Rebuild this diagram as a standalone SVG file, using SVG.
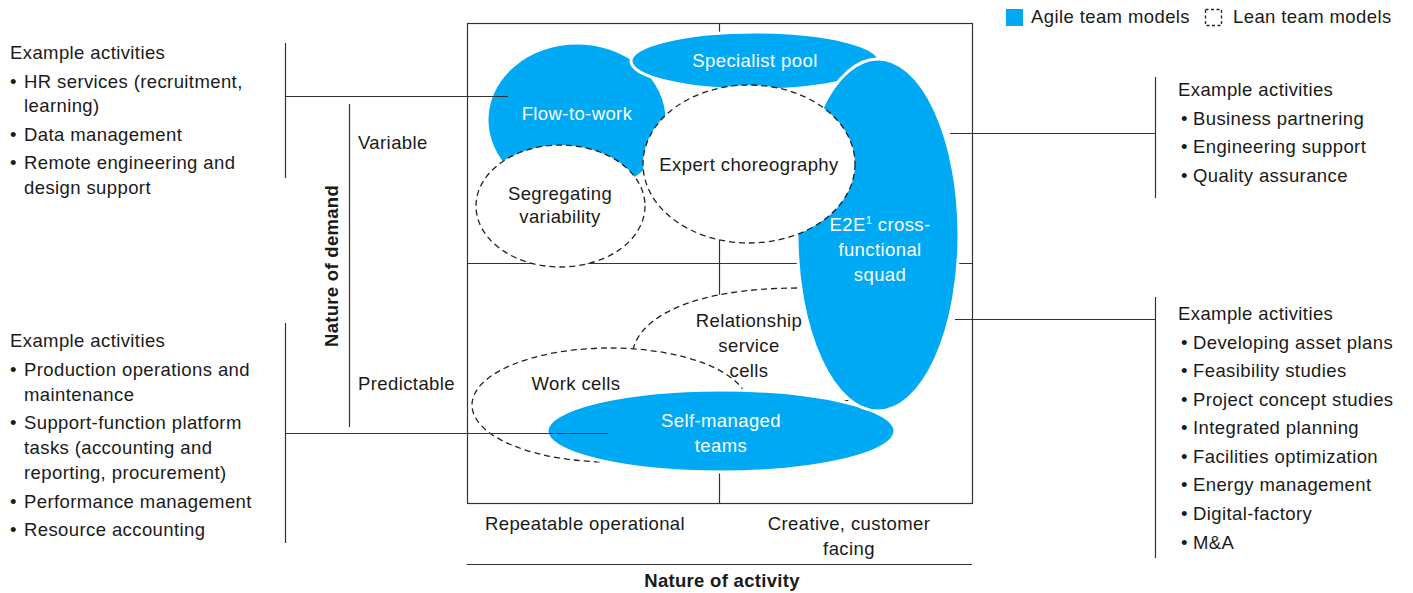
<svg xmlns="http://www.w3.org/2000/svg" width="1413" height="593" viewBox="0 0 1413 593">
<style>
text{font-family:"Liberation Sans",Arial,sans-serif;font-size:18.5px;fill:#1a1a1a;letter-spacing:0.4px}
.w{fill:#fff}
.b{font-weight:bold;letter-spacing:0.3px}
.m{text-anchor:middle}
.ln{stroke:#333;stroke-width:1.2;fill:none}
.ag{fill:#00a9f4;stroke:#fff;stroke-width:3}
.le{fill:#fff;stroke:#222;stroke-width:1.3;stroke-dasharray:6 4}
</style>
<rect width="1413" height="593" fill="#fff"/>

<g id="legend">
  <rect x="1006" y="9" width="17" height="17" fill="#00a9f4"/>
  <text x="1031" y="23">Agile team models</text>
  <rect x="1205.5" y="9.5" width="16" height="16" fill="none" stroke="#222" stroke-width="1.3" stroke-dasharray="3 2.5"/>
  <text x="1233" y="23">Lean team models</text>
</g>

<g id="grid" class="ln">
  <rect x="467.5" y="23.5" width="505" height="480"/>
  <line x1="467" y1="263.5" x2="972" y2="263.5"/>
  <line x1="719.5" y1="23" x2="719.5" y2="503"/>
  <line x1="467" y1="564.5" x2="972" y2="564.5"/>
  <line x1="349.5" y1="104" x2="349.5" y2="427"/>
</g>

<g id="flow-to-work">
  <ellipse class="ag" cx="577" cy="120" rx="90" ry="77"/>
  <text class="w m" x="577" y="120">Flow-to-work</text>
</g>
<g id="specialist-pool">
  <ellipse class="ag" cx="755" cy="61" rx="124" ry="29"/>
  <text class="w m" x="755" y="67">Specialist pool</text>
</g>
<g id="relationship-service-cells">
  <path class="le" d="M633,350 C640,318 690,288 800,288 L850,300 L850,400 L760,420 L680,420 Z"/>
  <text class="m" x="749" y="327">Relationship</text>
  <text class="m" x="749" y="352">service</text>
  <text class="m" x="749" y="377">cells</text>
</g>
<g id="work-cells">
  <ellipse class="le" cx="610" cy="405" rx="138" ry="57"/>
  <text class="m" x="576" y="390">Work cells</text>
</g>
<g id="self-managed-teams">
  <ellipse class="ag" cx="721" cy="431" rx="174" ry="41"/>
  <text class="w m" x="721" y="427">Self-managed</text>
  <text class="w m" x="721" y="452">teams</text>
</g>
<g id="e2e-squad">
  <ellipse class="ag" cx="878" cy="235" rx="81" ry="176"/>
  <text class="w m" x="880" y="231">E2E<tspan font-size="11" dy="-7">1</tspan><tspan dy="7"> cross-</tspan></text>
  <text class="w m" x="880" y="256">functional</text>
  <text class="w m" x="880" y="281">squad</text>
</g>
<g id="segregating-variability">
  <ellipse class="le" cx="560.5" cy="206" rx="84.5" ry="61"/>
  <text class="m" x="560" y="200">Segregating</text>
  <text class="m" x="560" y="223">variability</text>
</g>
<g id="expert-choreography">
  <ellipse class="le" cx="749" cy="164" rx="106" ry="79"/>
  <text class="m" x="749" y="171">Expert choreography</text>
</g>

<g id="connectors" class="ln">
  <line x1="285.5" y1="43" x2="285.5" y2="178"/>
  <line x1="285" y1="96.5" x2="508" y2="96.5"/>
  <line x1="285.5" y1="323" x2="285.5" y2="543"/>
  <line x1="285" y1="433.5" x2="608" y2="433.5"/>
  <line x1="1155.5" y1="77" x2="1155.5" y2="198"/>
  <line x1="950" y1="133.5" x2="1155" y2="133.5"/>
  <line x1="1155.5" y1="297" x2="1155.5" y2="558"/>
  <line x1="955" y1="319.5" x2="1155" y2="319.5"/>
</g>

<g id="axes-labels">
  <text x="358" y="149">Variable</text>
  <text x="358" y="390">Predictable</text>
  <text class="b m" transform="translate(338,266) rotate(-90)">Nature of demand</text>
  <text class="m" x="585" y="530" letter-spacing="0">Repeatable operational</text>
  <text class="m" x="849" y="530" letter-spacing="0.1">Creative, customer</text>
  <text class="m" x="849" y="555">facing</text>
  <text class="b m" x="722" y="587">Nature of activity</text>
</g>

<g id="activities-left-top">
  <text x="10" y="59">Example activities</text>
  <text x="10" y="88">•</text><text x="24" y="88">HR services (recruitment,</text>
  <text x="24" y="112">learning)</text>
  <text x="10" y="141">•</text><text x="24" y="141">Data management</text>
  <text x="10" y="169">•</text><text x="24" y="169">Remote engineering and</text>
  <text x="24" y="194">design support</text>
</g>
<g id="activities-left-bottom">
  <text x="10" y="347">Example activities</text>
  <text x="10" y="376">•</text><text x="24" y="376">Production operations and</text>
  <text x="24" y="401">maintenance</text>
  <text x="10" y="429">•</text><text x="24" y="429">Support-function platform</text>
  <text x="24" y="454">tasks (accounting and</text>
  <text x="24" y="479">reporting, procurement)</text>
  <text x="10" y="508">•</text><text x="24" y="508">Performance management</text>
  <text x="10" y="536">•</text><text x="24" y="536">Resource accounting</text>
</g>
<g id="activities-right-top">
  <text x="1178" y="96">Example activities</text>
  <text x="1181" y="125">•</text><text x="1193" y="125">Business partnering</text>
  <text x="1181" y="153">•</text><text x="1193" y="153">Engineering support</text>
  <text x="1181" y="182">•</text><text x="1193" y="182">Quality assurance</text>
</g>
<g id="activities-right-bottom">
  <text x="1178" y="320">Example activities</text>
  <text x="1181" y="349">•</text><text x="1193" y="349">Developing asset plans</text>
  <text x="1181" y="377">•</text><text x="1193" y="377">Feasibility studies</text>
  <text x="1181" y="406">•</text><text x="1193" y="406">Project concept studies</text>
  <text x="1181" y="434">•</text><text x="1193" y="434">Integrated planning</text>
  <text x="1181" y="463">•</text><text x="1193" y="463">Facilities optimization</text>
  <text x="1181" y="491">•</text><text x="1193" y="491">Energy management</text>
  <text x="1181" y="520">•</text><text x="1193" y="520">Digital-factory</text>
  <text x="1181" y="549">•</text><text x="1193" y="549">M&amp;A</text>
</g>
</svg>
